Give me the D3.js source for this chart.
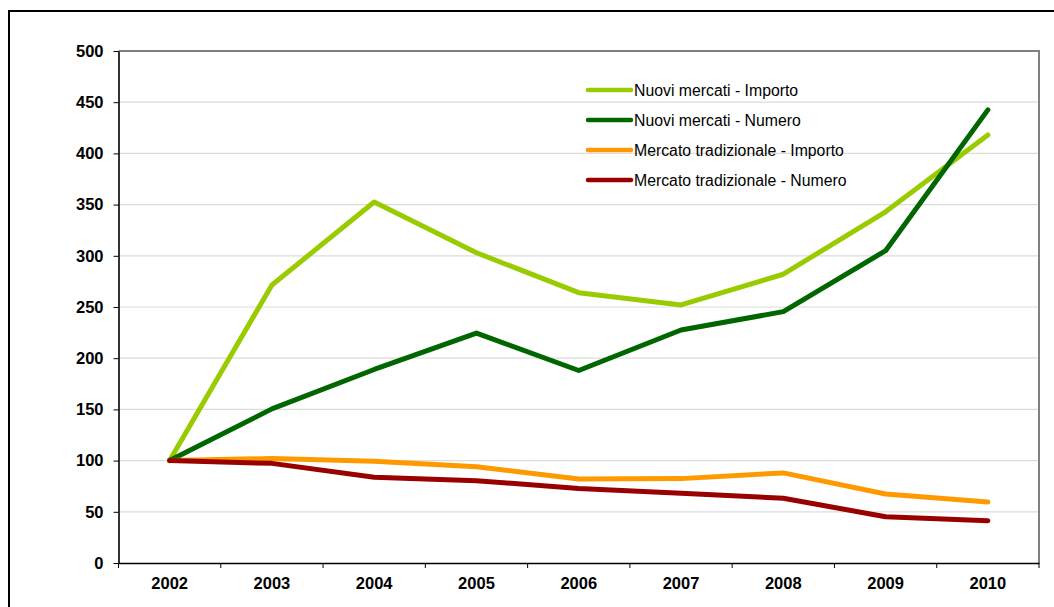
<!DOCTYPE html>
<html>
<head>
<meta charset="utf-8">
<script src="https://cdn.jsdelivr.net/npm/d3@7"></script>
<style>
  html, body { margin: 0; padding: 0; background: #fff; }
  svg { display: block; }
  text { font-family: "Liberation Sans", Arial, sans-serif; }
</style>
</head>
<body>
<svg id="chart" width="1054" height="607"></svg>
<script>
const years = ["2002","2003","2004","2005","2006","2007","2008","2009","2010"];
const yTicks = [0,50,100,150,200,250,300,350,400,450,500];

const nuoviImporto   = [100, 271.5, 352.5, 303, 264, 252, 282, 343, 418];
const nuoviNumero    = [100, 150.5, 189, 224.5, 188, 227.5, 245.5, 305, 442.5];
const tradImporto    = [100, 102, 99.3, 94, 82, 82.4, 88, 67.4, 59.6];
const tradNumero     = [100, 97.3, 83.7, 80.4, 72.8, 68, 63.2, 45.2, 41.3];

const seriesNames  = ["Nuovi mercati - Importo","Nuovi mercati - Numero","Mercato tradizionale - Importo","Mercato tradizionale - Numero"];
const seriesValues = [nuoviImporto, nuoviNumero, tradImporto, tradNumero];
const seriesColors = ["#99cc00","#006600","#ff9900","#990000"];

(function () {
const svg = d3.select("#chart");
const FONT = "'Liberation Sans', Arial, sans-serif";

// outer frame
svg.append("rect")
  .attr("x", 9).attr("y", 11).attr("width", 1200).attr("height", 800)
  .attr("fill", "none").attr("stroke", "#000").attr("stroke-width", 2);

const pLeft = 118.5, pRight = 1039, pTop = 51, pBottom = 563;

const x = d3.scaleBand().domain(years).range([pLeft, pRight]).padding(0);
const y = d3.scaleLinear().domain([0, 500]).range([pBottom, pTop]);
const cx = d => x(d) + x.bandwidth() / 2;

// gridlines
svg.append("g").selectAll("line")
  .data(yTicks.filter(v => v > 0 && v < 500))
  .join("line")
  .attr("x1", pLeft).attr("x2", pRight)
  .attr("y1", d => y(d)).attr("y2", d => y(d))
  .attr("stroke", "#dcdcdc").attr("stroke-width", 1.2);

// plot area border (top/right gray)
svg.append("path")
  .attr("d", `M${pLeft},${y(500)}H${pRight}V${pBottom}`)
  .attr("fill", "none").attr("stroke", "#808080").attr("stroke-width", 2);

// y axis
const yAxis = svg.append("g")
  .attr("transform", `translate(${pLeft},0)`)
  .call(d3.axisLeft(y).tickValues(yTicks).tickSize(5).tickPadding(10).tickSizeOuter(0));
yAxis.select(".domain").attr("stroke", "#000").attr("stroke-width", 1.6);
yAxis.selectAll(".tick line").attr("stroke", "#000");
yAxis.selectAll(".tick text")
  .attr("font-size", "16.5px").attr("font-weight", "bold").attr("fill", "#000")
  .attr("font-family", FONT);

// x axis
const xAxis = svg.append("g")
  .attr("transform", `translate(0,${pBottom})`)
  .call(d3.axisBottom(x).tickSize(0).tickPadding(14).tickSizeOuter(0));
xAxis.select(".domain").attr("stroke", "#000").attr("stroke-width", 1.6);
xAxis.selectAll(".tick text")
  .attr("font-size", "16.5px").attr("font-weight", "bold").attr("fill", "#000")
  .attr("font-family", FONT);
// boundary tick marks
const bounds = years.map(d => x(d)).concat([pRight]);
xAxis.selectAll(".bt").data(bounds).join("line")
  .attr("class", "bt")
  .attr("x1", d => d).attr("x2", d => d)
  .attr("y1", 0).attr("y2", 5)
  .attr("stroke", "#000").attr("stroke-width", 1);

// lines
const line = d3.line().x((d, i) => cx(years[i])).y(d => y(d));
svg.append("g").selectAll("path")
  .data(seriesValues)
  .join("path")
  .attr("d", d => line(d))
  .attr("fill", "none")
  .attr("stroke", (d, i) => seriesColors[i])
  .attr("stroke-width", 5)
  .attr("stroke-linejoin", "round")
  .attr("stroke-linecap", "round");

// legend
const leg = svg.append("g");
const legY = [90, 120, 150, 180];
seriesNames.forEach((name, i) => {
  leg.append("line")
    .attr("x1", 588).attr("x2", 631)
    .attr("y1", legY[i]).attr("y2", legY[i])
    .attr("stroke", seriesColors[i]).attr("stroke-width", 4.5)
    .attr("stroke-linecap", "round");
  leg.append("text")
    .attr("x", 634).attr("y", legY[i] + 5.5)
    .attr("font-size", "15.8px").attr("fill", "#000")
    .attr("font-family", FONT)
    .text(name);
});
})();
</script>
</body>
</html>
